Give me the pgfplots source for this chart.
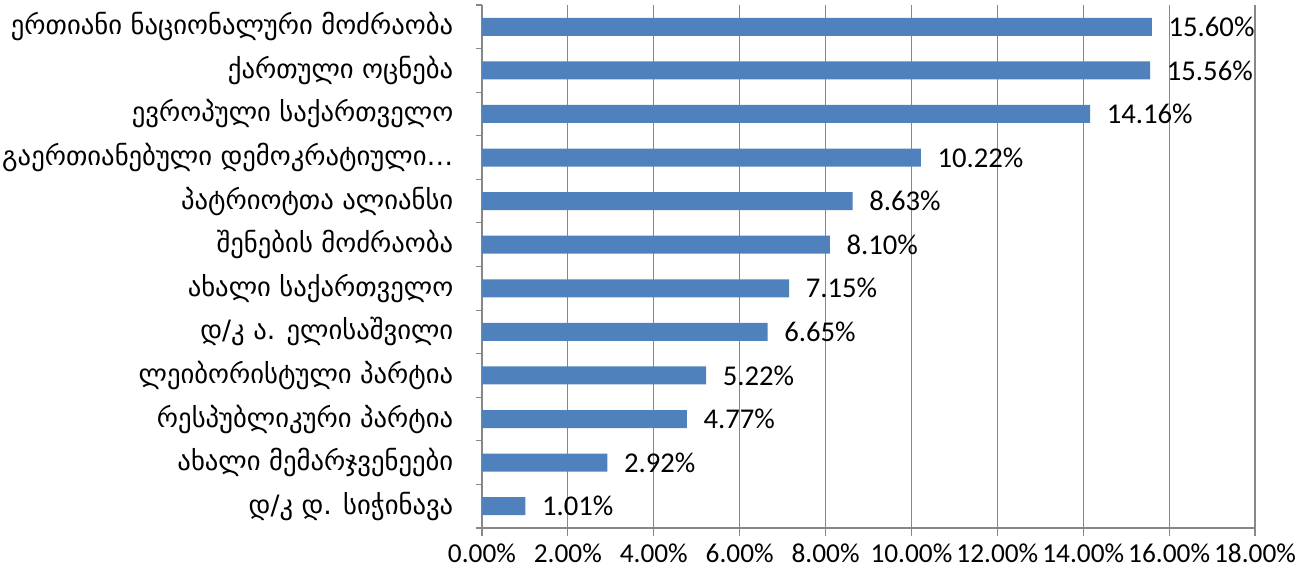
\documentclass[border=0pt]{standalone}
\usepackage{pgfplots}
\pgfplotsset{compat=1.18}
\usepackage{fontspec}
\setmainfont{Carlito}
\newfontfamily\geofont[Script=Georgian]{DejaVu Sans}
\definecolor{barblue}{HTML}{4F81BD}
\definecolor{gridgray}{HTML}{878787}
\begin{document}
\begin{tikzpicture}
\begin{axis}[
  name=ax,
  at={(0,0)}, anchor=south west,
  scale only axis,
  width=579.75pt, height=392.25pt,
  xbar, bar width=13.5pt,
  xmin=0, xmax=18,
  ymin=-0.5, ymax=11.5,
  axis x line*=bottom, axis y line*=left,
  axis line style={gridgray, line width=0.8pt},
  xtick={0,2,...,18},
  xmajorgrids, grid style={gridgray, line width=0.8pt},
  xticklabel={\pgfmathprintnumber[fixed,fixed zerofill,precision=2]{\tick}\%},
  xticklabel style={font=\fontsize{20.5pt}{22pt}\selectfont, yshift=-2pt},
  /pgf/number format/assume math mode=true,
  x tick style={gridgray, line width=0.8pt},
  tick align=outside, major tick length=6pt,
  ytick={0,...,11},
  y tick style={draw=none},
  yticklabels={დ/კ დ. სიჭინავა, ახალი მემარჯვენეები, რესპუბლიკური პარტია, ლეიბორისტული პარტია, დ/კ ა. ელისაშვილი, ახალი საქართველო, შენების მოძრაობა, პატრიოტთა ალიანსი, გაერთიანებული დემოკრატიული…, ევროპული საქართველო, ქართული ოცნება, ერთიანი ნაციონალური მოძრაობა},
  yticklabel style={font=\geofont\fontsize{20pt}{22pt}\selectfont, xshift=-12pt},
  extra y ticks={-0.5,0.5,...,11.5},
  extra y tick labels={},
  extra y tick style={y tick style={draw=gridgray, line width=0.8pt}, major tick length=4.5pt, grid=none},
  nodes near coords={\pgfmathprintnumber[fixed,fixed zerofill,precision=2]{\pgfplotspointmeta}\%},
  nodes near coords style={font=\fontsize{21.5pt}{24pt}\selectfont, anchor=west, xshift=9pt, text=black},
  point meta=explicit,
]
\addplot[fill=barblue, draw=none] coordinates {
  (1.01,0) [1.01]
  (2.92,1) [2.92]
  (4.77,2) [4.77]
  (5.22,3) [5.22]
  (6.65,4) [6.65]
  (7.15,5) [7.15]
  (8.10,6) [8.10]
  (8.63,7) [8.63]
  (10.22,8) [10.22]
  (14.16,9) [14.16]
  (15.56,10) [15.56]
  (15.60,11) [15.60]
};
\end{axis}
\pgfresetboundingbox
\path[use as bounding box] (-361.5pt,-33.75pt) rectangle (618.75pt,396pt);
\end{tikzpicture}
\end{document}
